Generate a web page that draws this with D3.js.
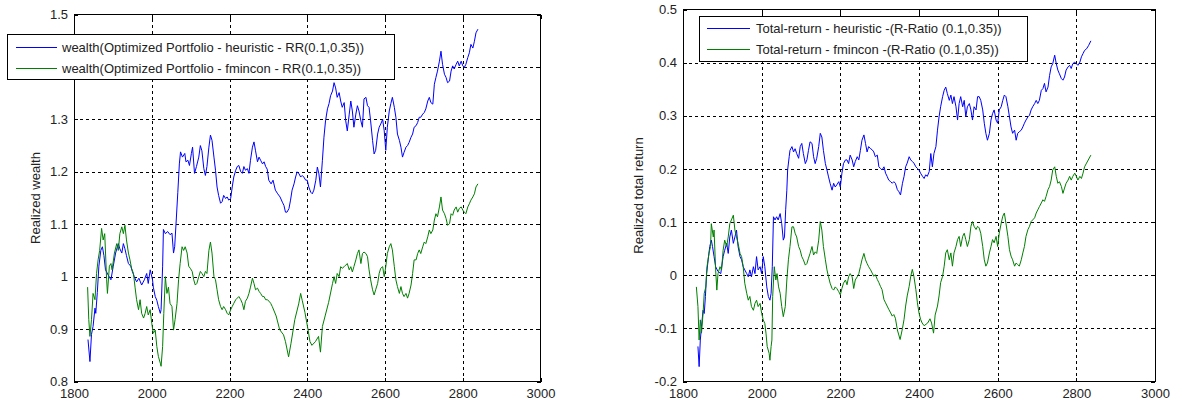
<!DOCTYPE html>
<html>
<head>
<meta charset="utf-8">
<script src="https://cdn.jsdelivr.net/npm/d3@7"></script>
<style>
  html, body { margin: 0; padding: 0; background: #fff; }
  svg { display: block; }
  text { font-family: "Liberation Sans", Arial, Helvetica, sans-serif; }
</style>
</head>
<body>
<svg id="chart" width="1182" height="408"></svg>
<script>
// ---------------- DATA ----------------
const xTicks = [1800, 2000, 2200, 2400, 2600, 2800, 3000];
const xTickLabels = ["1800", "2000", "2200", "2400", "2600", "2800", "3000"];
const wealthTicks = [0.8, 0.9, 1.0, 1.1, 1.2, 1.3, 1.4, 1.5];
const wealthTickLabels = ["0.8", "0.9", "1", "1.1", "1.2", "1.3", "1.4", "1.5"];
const returnTicks = [-0.2, -0.1, 0, 0.1, 0.2, 0.3, 0.4, 0.5];
const returnTickLabels = ["-0.2", "-0.1", "0", "0.1", "0.2", "0.3", "0.4", "0.5"];

const wealthLegend = [
  "wealth(Optimized Portfolio - heuristic - RR(0.1,0.35))",
  "wealth(Optimized Portfolio - fmincon - RR(0.1,0.35))"
];
const returnLegend = [
  "Total-return - heuristic -(R-Ratio (0.1,0.35))",
  "Total-return - fmincon -(R-Ratio (0.1,0.35))"
];

const heuristicWealth = [[1836,0.88],[1841,0.838],[1845,0.89],[1849,0.905],[1854,0.94],[1856,0.93],[1860,0.97],[1864,1.02],[1869,1.05],[1873,1.057],[1877,1.04],[1881,1.013],[1888,1.003],[1895,0.994],[1901,1.02],[1907,1.045],[1914,1.063],[1918,1.053],[1923,1.045],[1927,1.063],[1931,1.053],[1935,1.04],[1940,1.025],[1946,1.02],[1950,1.01],[1955,1.0],[1961,0.99],[1967,0.997],[1974,0.984],[1981,0.994],[1987,1.006],[1991,0.987],[1996,1.013],[2002,0.994],[2004,0.98],[2009,0.962],[2013,0.955],[2017,0.943],[2022,0.93],[2024,0.937],[2028,1.02],[2030,1.09],[2035,1.082],[2041,1.086],[2047,1.08],[2052,1.083],[2056,1.045],[2059,1.057],[2063,1.108],[2067,1.16],[2071,1.215],[2074,1.238],[2079,1.228],[2085,1.235],[2088,1.219],[2093,1.222],[2097,1.212],[2102,1.235],[2105,1.247],[2110,1.197],[2115,1.21],[2121,1.228],[2125,1.25],[2129,1.24],[2134,1.206],[2138,1.193],[2142,1.21],[2147,1.247],[2151,1.27],[2155,1.26],[2160,1.228],[2164,1.203],[2168,1.171],[2172,1.155],[2177,1.14],[2181,1.143],[2185,1.155],[2190,1.149],[2194,1.152],[2198,1.146],[2203,1.149],[2207,1.171],[2211,1.19],[2216,1.203],[2220,1.21],[2224,1.212],[2229,1.2],[2233,1.197],[2237,1.21],[2241,1.203],[2246,1.206],[2250,1.197],[2254,1.222],[2259,1.247],[2263,1.257],[2267,1.24],[2272,1.219],[2276,1.228],[2280,1.222],[2285,1.215],[2289,1.219],[2293,1.21],[2297,1.205],[2301,1.184],[2307,1.177],[2312,1.184],[2318,1.165],[2324,1.158],[2330,1.152],[2336,1.142],[2340,1.136],[2344,1.123],[2348,1.123],[2353,1.13],[2357,1.146],[2361,1.165],[2366,1.177],[2370,1.19],[2374,1.2],[2379,1.196],[2383,1.19],[2387,1.193],[2391,1.19],[2396,1.184],[2400,1.184],[2404,1.171],[2409,1.161],[2413,1.158],[2417,1.165],[2422,1.184],[2426,1.209],[2430,1.196],[2434,1.171],[2439,1.222],[2443,1.266],[2447,1.297],[2452,1.32],[2456,1.33],[2460,1.345],[2465,1.354],[2469,1.37],[2473,1.36],[2477,1.342],[2482,1.351],[2486,1.335],[2490,1.323],[2495,1.332],[2499,1.297],[2503,1.278],[2508,1.31],[2512,1.335],[2516,1.316],[2520,1.285],[2525,1.31],[2529,1.326],[2533,1.316],[2538,1.297],[2542,1.285],[2546,1.339],[2551,1.342],[2555,1.326],[2559,1.323],[2563,1.297],[2568,1.26],[2572,1.234],[2576,1.241],[2581,1.272],[2585,1.285],[2589,1.291],[2594,1.3],[2598,1.278],[2602,1.241],[2606,1.285],[2611,1.316],[2615,1.33],[2619,1.342],[2624,1.323],[2628,1.304],[2632,1.272],[2637,1.26],[2641,1.247],[2645,1.228],[2649,1.237],[2654,1.247],[2658,1.25],[2662,1.256],[2667,1.266],[2671,1.272],[2675,1.285],[2680,1.288],[2684,1.294],[2688,1.304],[2692,1.304],[2697,1.31],[2701,1.313],[2705,1.32],[2710,1.335],[2714,1.342],[2718,1.332],[2723,1.329],[2727,1.367],[2731,1.38],[2735,1.392],[2740,1.411],[2744,1.43],[2748,1.405],[2753,1.386],[2757,1.38],[2761,1.37],[2766,1.373],[2770,1.392],[2774,1.402],[2778,1.396],[2783,1.405],[2787,1.411],[2791,1.402],[2796,1.411],[2800,1.402],[2804,1.399],[2808,1.405],[2813,1.418],[2817,1.427],[2821,1.443],[2826,1.436],[2830,1.449],[2834,1.465],[2839,1.472]];

const fminconWealth = [[1835,0.98],[1838,0.918],[1841,0.886],[1845,0.918],[1849,0.968],[1854,0.956],[1858,1.006],[1862,1.032],[1866,1.05],[1871,1.092],[1875,1.07],[1879,1.082],[1884,0.994],[1886,0.968],[1891,1.02],[1895,1.025],[1898,1.013],[1904,1.045],[1910,1.063],[1914,1.05],[1918,1.082],[1923,1.095],[1927,1.082],[1931,1.098],[1935,1.07],[1940,1.045],[1944,1.032],[1948,1.016],[1953,1.006],[1957,0.98],[1961,0.956],[1966,0.937],[1970,0.956],[1974,0.93],[1979,0.921],[1983,0.93],[1987,0.943],[1991,0.927],[1996,0.937],[2000,0.911],[2004,0.892],[2009,0.898],[2013,0.867],[2017,0.848],[2022,0.835],[2024,0.829],[2028,0.867],[2031,0.93],[2035,1.0],[2039,0.968],[2043,0.98],[2047,0.949],[2052,0.943],[2056,0.898],[2060,0.918],[2065,0.949],[2069,0.994],[2073,1.025],[2078,1.057],[2082,1.05],[2086,1.057],[2091,1.045],[2095,1.02],[2099,1.016],[2104,1.01],[2108,0.994],[2112,0.984],[2116,0.987],[2121,1.0],[2125,1.01],[2129,1.006],[2134,1.0],[2138,1.01],[2142,1.006],[2147,1.05],[2151,1.066],[2155,1.045],[2160,1.0],[2164,0.994],[2168,0.975],[2172,0.956],[2177,0.943],[2181,0.937],[2185,0.943],[2190,0.937],[2194,0.93],[2198,0.927],[2203,0.937],[2207,0.943],[2211,0.949],[2216,0.956],[2220,0.959],[2224,0.962],[2229,0.956],[2233,0.949],[2237,0.937],[2241,0.953],[2246,0.959],[2250,0.968],[2254,0.98],[2259,0.997],[2263,0.987],[2267,0.975],[2272,0.978],[2276,0.972],[2280,0.968],[2285,0.962],[2289,0.962],[2293,0.956],[2297,0.956],[2302,0.953],[2306,0.949],[2310,0.943],[2320,0.925],[2329,0.899],[2339,0.889],[2344,0.876],[2352,0.847],[2358,0.872],[2368,0.918],[2378,0.948],[2383,0.968],[2387,0.955],[2394,0.932],[2402,0.899],[2407,0.876],[2412,0.869],[2421,0.876],[2429,0.886],[2434,0.856],[2439,0.905],[2446,0.925],[2455,0.951],[2465,0.987],[2469,1.0],[2473,0.987],[2477,1.006],[2482,1.0],[2486,1.019],[2490,1.016],[2495,1.019],[2499,1.022],[2503,1.025],[2508,1.013],[2512,1.019],[2516,1.009],[2520,1.019],[2525,1.032],[2529,1.044],[2533,1.051],[2538,1.025],[2542,1.044],[2546,1.047],[2551,1.044],[2555,1.038],[2559,1.013],[2563,0.994],[2568,0.975],[2572,0.965],[2576,0.975],[2581,0.987],[2585,1.006],[2589,1.016],[2594,1.019],[2598,1.0],[2602,1.019],[2606,1.044],[2611,1.057],[2615,1.063],[2619,1.051],[2624,1.019],[2628,0.994],[2632,0.981],[2637,0.968],[2641,0.981],[2645,0.968],[2649,0.962],[2654,0.968],[2658,0.959],[2662,0.968],[2667,0.984],[2671,1.006],[2675,1.032],[2680,1.032],[2684,1.044],[2688,1.051],[2692,1.044],[2697,1.057],[2701,1.066],[2705,1.063],[2710,1.076],[2714,1.089],[2718,1.082],[2723,1.089],[2727,1.108],[2731,1.12],[2735,1.114],[2740,1.133],[2744,1.152],[2748,1.127],[2753,1.12],[2757,1.111],[2761,1.098],[2766,1.101],[2770,1.12],[2774,1.117],[2778,1.127],[2783,1.133],[2787,1.123],[2791,1.13],[2796,1.133],[2800,1.127],[2804,1.123],[2808,1.12],[2813,1.133],[2817,1.139],[2821,1.146],[2826,1.152],[2830,1.158],[2834,1.171],[2839,1.177]];

const heuristicReturn = [[1838,-0.134],[1841,-0.172],[1844,-0.122],[1847,-0.097],[1851,-0.066],[1854,-0.072],[1857,-0.04],[1860,0.003],[1864,0.029],[1868,0.054],[1872,0.066],[1875,0.054],[1879,0.035],[1883,0.016],[1889,0.007],[1896,0.003],[1902,0.035],[1906,0.047],[1911,0.06],[1915,0.041],[1919,0.072],[1923,0.085],[1928,0.06],[1932,0.072],[1936,0.085],[1940,0.054],[1945,0.035],[1949,0.029],[1953,0.016],[1957,0.01],[1962,0.003],[1966,-0.003],[1970,0.01],[1974,-0.003],[1979,0.016],[1983,0.003],[1987,0.035],[1991,0.01],[1996,0.016],[2000,0.003],[2004,0.035],[2008,0.016],[2013,-0.022],[2017,-0.04],[2021,-0.047],[2024,-0.034],[2027,0.016],[2030,0.11],[2034,0.104],[2038,0.11],[2042,0.104],[2047,0.116],[2051,0.097],[2055,0.066],[2058,0.072],[2061,0.123],[2064,0.16],[2066,0.198],[2070,0.223],[2072,0.235],[2077,0.242],[2081,0.232],[2085,0.238],[2089,0.229],[2094,0.22],[2098,0.242],[2102,0.248],[2106,0.229],[2111,0.21],[2115,0.217],[2119,0.235],[2123,0.251],[2128,0.248],[2132,0.223],[2136,0.21],[2140,0.22],[2145,0.242],[2149,0.267],[2153,0.26],[2157,0.235],[2162,0.21],[2166,0.198],[2170,0.185],[2174,0.173],[2179,0.16],[2183,0.173],[2187,0.166],[2191,0.17],[2196,0.176],[2200,0.166],[2204,0.192],[2208,0.21],[2213,0.217],[2217,0.217],[2221,0.21],[2225,0.226],[2230,0.217],[2234,0.204],[2238,0.214],[2243,0.223],[2247,0.217],[2251,0.235],[2255,0.254],[2260,0.264],[2264,0.248],[2268,0.232],[2272,0.242],[2277,0.238],[2281,0.236],[2285,0.232],[2289,0.223],[2294,0.226],[2298,0.204],[2302,0.201],[2306,0.198],[2311,0.204],[2315,0.192],[2319,0.186],[2323,0.179],[2328,0.176],[2332,0.173],[2336,0.176],[2340,0.173],[2345,0.161],[2349,0.157],[2353,0.151],[2358,0.173],[2362,0.186],[2366,0.204],[2370,0.211],[2375,0.223],[2379,0.217],[2383,0.214],[2387,0.211],[2392,0.204],[2396,0.201],[2400,0.198],[2404,0.192],[2409,0.186],[2413,0.182],[2417,0.189],[2421,0.186],[2426,0.195],[2430,0.229],[2434,0.204],[2438,0.229],[2443,0.242],[2447,0.273],[2451,0.298],[2455,0.317],[2460,0.336],[2464,0.348],[2468,0.354],[2472,0.342],[2477,0.329],[2481,0.339],[2485,0.323],[2489,0.336],[2494,0.317],[2498,0.292],[2502,0.323],[2506,0.336],[2511,0.317],[2515,0.329],[2519,0.298],[2523,0.317],[2528,0.323],[2532,0.311],[2536,0.292],[2540,0.317],[2545,0.311],[2549,0.336],[2553,0.336],[2557,0.329],[2562,0.311],[2566,0.286],[2570,0.267],[2574,0.254],[2579,0.267],[2583,0.292],[2587,0.304],[2591,0.311],[2596,0.292],[2600,0.286],[2604,0.311],[2609,0.317],[2613,0.329],[2617,0.339],[2621,0.336],[2626,0.317],[2630,0.298],[2634,0.279],[2638,0.267],[2643,0.273],[2647,0.254],[2651,0.267],[2655,0.27],[2660,0.273],[2664,0.279],[2668,0.286],[2672,0.292],[2677,0.298],[2681,0.301],[2685,0.311],[2689,0.317],[2694,0.323],[2698,0.329],[2702,0.323],[2706,0.329],[2711,0.348],[2715,0.351],[2719,0.361],[2723,0.345],[2728,0.354],[2732,0.376],[2736,0.392],[2740,0.398],[2745,0.414],[2749,0.398],[2753,0.386],[2757,0.379],[2762,0.37],[2766,0.367],[2770,0.373],[2774,0.386],[2779,0.392],[2783,0.395],[2787,0.389],[2791,0.398],[2796,0.401],[2800,0.398],[2804,0.395],[2809,0.401],[2813,0.411],[2817,0.417],[2821,0.423],[2826,0.426],[2831,0.432],[2837,0.441]];

const fminconReturn = [[1834,-0.022],[1838,-0.059],[1841,-0.122],[1844,-0.084],[1847,-0.109],[1851,-0.072],[1854,-0.034],[1858,-0.022],[1861,0.016],[1866,0.041],[1870,0.054],[1872,0.097],[1877,0.072],[1879,0.085],[1883,0.01],[1886,-0.028],[1889,0.003],[1894,0.016],[1898,0.01],[1902,0.047],[1906,0.066],[1911,0.054],[1915,0.072],[1919,0.097],[1923,0.104],[1928,0.113],[1932,0.085],[1936,0.072],[1940,0.06],[1945,0.041],[1949,0.035],[1953,0.016],[1957,-0.015],[1962,-0.034],[1966,-0.047],[1970,-0.04],[1974,-0.059],[1979,-0.066],[1983,-0.053],[1987,-0.047],[1991,-0.059],[1996,-0.053],[2000,-0.072],[2004,-0.084],[2008,-0.091],[2011,-0.109],[2014,-0.134],[2019,-0.147],[2021,-0.16],[2024,-0.134],[2026,-0.122],[2028,-0.04],[2032,0.016],[2036,-0.009],[2039,0.003],[2043,-0.022],[2047,-0.034],[2051,-0.059],[2055,-0.078],[2060,-0.059],[2064,-0.009],[2068,0.029],[2072,0.054],[2077,0.091],[2081,0.091],[2085,0.079],[2089,0.072],[2094,0.054],[2098,0.047],[2102,0.035],[2106,0.029],[2111,0.019],[2115,0.022],[2119,0.032],[2123,0.041],[2128,0.054],[2132,0.038],[2136,0.044],[2140,0.041],[2145,0.066],[2149,0.101],[2153,0.085],[2157,0.054],[2162,0.029],[2166,0.01],[2170,-0.003],[2174,-0.015],[2179,-0.025],[2183,-0.028],[2187,-0.022],[2191,-0.025],[2196,-0.031],[2200,-0.037],[2204,-0.025],[2208,-0.015],[2213,-0.009],[2217,-0.018],[2221,-0.003],[2225,0.003],[2230,-0.003],[2234,-0.025],[2238,-0.009],[2243,-0.003],[2247,0.003],[2251,0.016],[2255,0.029],[2260,0.041],[2264,0.029],[2268,0.022],[2272,0.016],[2277,0.01],[2281,0.004],[2285,-0.002],[2289,0.001],[2294,-0.008],[2298,-0.014],[2302,-0.021],[2306,-0.027],[2311,-0.046],[2315,-0.052],[2319,-0.058],[2323,-0.064],[2328,-0.071],[2332,-0.077],[2336,-0.074],[2340,-0.081],[2345,-0.103],[2352,-0.121],[2358,-0.1],[2362,-0.083],[2366,-0.058],[2370,-0.039],[2375,-0.021],[2379,-0.002],[2383,0.011],[2387,-0.002],[2392,-0.027],[2396,-0.052],[2400,-0.071],[2404,-0.083],[2408,-0.09],[2413,-0.095],[2422,-0.09],[2428,-0.082],[2432,-0.09],[2437,-0.109],[2441,-0.075],[2447,-0.058],[2451,-0.039],[2455,-0.014],[2460,-0.002],[2464,0.017],[2468,0.042],[2472,0.048],[2477,0.029],[2481,0.042],[2485,0.017],[2489,0.042],[2494,0.054],[2498,0.067],[2502,0.073],[2506,0.054],[2511,0.073],[2515,0.079],[2519,0.067],[2523,0.054],[2528,0.067],[2532,0.092],[2536,0.101],[2540,0.092],[2545,0.086],[2549,0.092],[2553,0.089],[2557,0.079],[2562,0.054],[2566,0.029],[2570,0.017],[2574,0.023],[2579,0.042],[2583,0.054],[2587,0.067],[2591,0.061],[2596,0.073],[2600,0.054],[2604,0.079],[2609,0.098],[2613,0.111],[2617,0.117],[2621,0.098],[2626,0.073],[2630,0.048],[2634,0.036],[2638,0.029],[2643,0.017],[2647,0.023],[2651,0.02],[2655,0.017],[2660,0.029],[2664,0.042],[2668,0.054],[2672,0.073],[2677,0.086],[2681,0.092],[2685,0.101],[2689,0.104],[2694,0.108],[2698,0.117],[2702,0.123],[2706,0.129],[2711,0.136],[2715,0.142],[2719,0.139],[2723,0.148],[2728,0.161],[2732,0.167],[2736,0.179],[2740,0.198],[2745,0.204],[2749,0.186],[2753,0.173],[2757,0.176],[2762,0.167],[2766,0.154],[2770,0.164],[2774,0.173],[2779,0.179],[2783,0.186],[2787,0.179],[2791,0.186],[2796,0.192],[2800,0.186],[2804,0.179],[2809,0.186],[2813,0.182],[2817,0.192],[2821,0.204],[2826,0.211],[2837,0.226]];

// ---------------- DRAWING ----------------
const BLUE = "#0000ff", GREEN = "#008000";
const FONT = 13;
const svg = d3.select("#chart");

const panels = [
  {
    left: 74, right: 540.5, top: 14.5, bottom: 381.5,
    yDomain: [0.8, 1.5], yTicks: wealthTicks, yTickLabels: wealthTickLabels,
    series: [heuristicWealth, fminconWealth], legend: wealthLegend,
    legendBox: { x: 7.5, y: 34, w: 386.5, h: 45, lineX0: 16, lineX1: 57, textX: 62, rows: [52, 73] },
    yLabel: "Realized wealth", yLabelX: 39.5
  },
  {
    left: 683, right: 1155, top: 9.5, bottom: 381.5,
    yDomain: [-0.2, 0.5], yTicks: returnTicks, yTickLabels: returnTickLabels,
    series: [heuristicReturn, fminconReturn], legend: returnLegend,
    legendBox: { x: 699.5, y: 16, w: 328, h: 45, lineX0: 707, lineX1: 750, textX: 756, rows: [33, 54] },
    yLabel: "Realized total return", yLabelX: 642.5
  }
];

panels.forEach(p => {
  const x = d3.scaleLinear().domain([1800, 3000]).range([p.left, p.right]);
  const y = d3.scaleLinear().domain(p.yDomain).range([p.bottom, p.top]);
  const g = svg.append("g");
  const L = p.legendBox;

  // grid
  const grid = g.append("g").attr("stroke", "#000").attr("stroke-width", 1)
    .attr("stroke-dasharray", "3,3").attr("shape-rendering", "crispEdges");
  grid.selectAll(".gx").data(xTicks.slice(1, -1)).join("line")
    .attr("x1", d => Math.round(x(d)) + 0.5).attr("x2", d => Math.round(x(d)) + 0.5)
    .attr("y1", p.bottom).attr("y2", p.top);
  grid.selectAll(".gy").data(p.yTicks.slice(1, -1)).join("line")
    .attr("y1", d => Math.round(y(d)) + 0.5).attr("y2", d => Math.round(y(d)) + 0.5)
    .attr("x1", p.left).attr("x2", p.right);

  // axes
  const fmtX = d => xTickLabels[xTicks.indexOf(d)];
  const fmtY = d => p.yTickLabels[p.yTicks.indexOf(d)];
  const ax = [
    g.append("g").attr("transform", `translate(0,${p.bottom})`)
      .call(d3.axisBottom(x).tickValues(xTicks).tickFormat(fmtX).tickSizeInner(-4).tickSizeOuter(0).tickPadding(7)),
    g.append("g").attr("class", "yaxis").attr("transform", `translate(${p.left},0)`)
      .call(d3.axisLeft(y).tickValues(p.yTicks).tickFormat(fmtY).tickSizeInner(-4).tickSizeOuter(0).tickPadding(6)),
    g.append("g").attr("transform", `translate(0,${p.top})`)
      .call(d3.axisTop(x).tickValues(xTicks).tickFormat("").tickSizeInner(-4).tickSizeOuter(0)),
    g.append("g").attr("transform", `translate(${p.right},0)`)
      .call(d3.axisRight(y).tickValues(p.yTicks).tickFormat("").tickSizeInner(-4).tickSizeOuter(0))
  ];
  ax.forEach(a => {
    a.attr("font-family", null).attr("font-size", null);
    a.select(".domain").remove();
    a.selectAll(".tick line").attr("stroke", "#000").attr("shape-rendering", "crispEdges");
    a.selectAll("text").attr("fill", "#222").style("font-size", FONT + "px");
  });
  // a y tick label that sits behind the legend box is not visible in the original
  ax[1].selectAll(".tick").filter(d => {
    const ty = y(d);
    return ty > L.y && ty < L.y + L.h && p.left - 20 > L.x;
  }).select("text").remove();

  // lines
  const line = d3.line().x(d => x(d[0])).y(d => y(d[1]));
  const colors = [BLUE, GREEN];
  p.series.forEach((s, i) => {
    g.append("path").datum(s).attr("d", line)
      .attr("fill", "none").attr("stroke", colors[i]).attr("stroke-width", 1)
      .attr("stroke-linejoin", "round");
  });

  // frame
  g.append("rect").attr("x", p.left).attr("y", p.top)
    .attr("width", p.right - p.left).attr("height", p.bottom - p.top)
    .attr("fill", "none").attr("stroke", "#000").attr("stroke-width", 1)
    .attr("shape-rendering", "crispEdges");

  // y label
  g.append("text")
    .attr("transform", `translate(${p.yLabelX},${(p.top + p.bottom) / 2}) rotate(-90)`)
    .attr("text-anchor", "middle").attr("fill", "#222")
    .style("font-size", FONT + "px").text(p.yLabel);

  // legend
  const lg = g.append("g");
  lg.append("rect").attr("x", L.x).attr("y", L.y).attr("width", L.w).attr("height", L.h)
    .attr("fill", "#fff").attr("stroke", "#000").attr("stroke-width", 1)
    .attr("shape-rendering", "crispEdges");
  p.legend.forEach((t, i) => {
    const yy = L.rows[i];
    lg.append("line").attr("x1", L.lineX0).attr("x2", L.lineX1)
      .attr("y1", yy - 4.5).attr("y2", yy - 4.5)
      .attr("stroke", colors[i]).attr("stroke-width", 1);
    lg.append("text").attr("x", L.textX).attr("y", yy).attr("fill", "#222")
      .style("font-size", FONT + "px").text(t);
  });
});
</script>
</body>
</html>
